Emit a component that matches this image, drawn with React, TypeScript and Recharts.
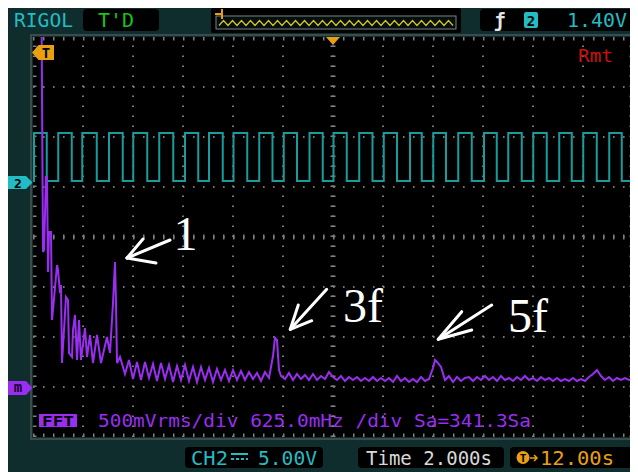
import React from 'react';
import { ComposedChart, Line, XAxis, YAxis, CartesianGrid, ReferenceLine, ReferenceDot } from 'recharts';

// ---- FFT (math) trace, [frequency Hz, magnitude Vrms] ----
const fftDcBand: [number, number][] = [
  [0.1, 4.6], [0.125, 1.36], [0.1375, 1.38], [0.1625, 2.11], [0.175, 2.11], [0.1875, 1.16],
  [0.2, 1.56], [0.225, 1.56], [0.2375, 0.68], [0.25, 0.78], [0.3, 1.23], [0.3125, 1.18],
  [0.3375, 0.95], [0.35, 1.03], [0.3625, 0.25], [0.3875, 0.58], [0.4125, 0.91], [0.4375, 0.88],
  [0.45, 0.35], [0.4875, 0.31], [0.5, 0.58], [0.525, 0.73], [0.55, 0.28], [0.575, 0.68],
  [0.6, 0.28], [0.65, 0.6], [0.675, 0.31], [0.7125, 0.53], [0.75, 0.25], [0.8, 0.53],
  [0.85, 0.25], [0.925, 0.51], [0.9625, 0.35], [1.0, 0.85], [1.025, 1.26], [1.0375, 0.85],
  [1.05, 0.25], [1.0875, 0.31],
];
const fftLowFloor: [number, number][] = [
  [1.15, 0.14], [1.2, 0.28], [1.25, 0.09], [1.3, 0.26], [1.35, 0.08], [1.4, 0.26], [1.45, 0.1],
  [1.5, 0.24], [1.55, 0.07], [1.6, 0.25], [1.65, 0.09], [1.7, 0.23], [1.75, 0.06], [1.8, 0.22],
  [1.85, 0.08], [1.9, 0.23], [1.95, 0.07], [2.0, 0.21], [2.05, 0.06], [2.1, 0.21], [2.15, 0.08],
  [2.2, 0.2], [2.25, 0.06], [2.3, 0.19], [2.35, 0.08], [2.4, 0.18], [2.45, 0.07], [2.5, 0.18],
  [2.55, 0.08], [2.6, 0.17], [2.65, 0.08], [2.7, 0.16], [2.75, 0.09], [2.8, 0.15], [2.85, 0.07],
  [2.9, 0.16], [2.95, 0.1],
];
const fft3fBand: [number, number][] = [
  [3.0, 0.32], [3.025, 0.5], [3.05, 0.48], [3.075, 0.18], [3.1, 0.12], [3.15, 0.09], [3.2, 0.15],
  [3.25, 0.08], [3.3, 0.14], [3.35, 0.09], [3.4, 0.13], [3.45, 0.08], [3.5, 0.14], [3.55, 0.08],
  [3.6, 0.12], [3.65, 0.09], [3.7, 0.16], [3.75, 0.11], [3.8, 0.08], [3.85, 0.12], [3.9, 0.07],
  [3.95, 0.11], [4.0, 0.08], [4.05, 0.11], [4.1, 0.07], [4.15, 0.1], [4.2, 0.07], [4.25, 0.11],
  [4.3, 0.07], [4.35, 0.1], [4.4, 0.07], [4.45, 0.1], [4.5, 0.06], [4.55, 0.12], [4.6, 0.07],
  [4.65, 0.1], [4.7, 0.06], [4.75, 0.09], [4.8, 0.06], [4.85, 0.11], [4.9, 0.07], [4.95, 0.09],
];
const fft5fBand: [number, number][] = [
  [5.0, 0.2], [5.025, 0.28], [5.05, 0.26], [5.1, 0.21], [5.15, 0.08], [5.2, 0.12], [5.25, 0.06],
  [5.3, 0.11], [5.35, 0.07], [5.4, 0.1], [5.45, 0.11], [5.5, 0.07], [5.55, 0.11], [5.6, 0.08],
  [5.65, 0.12], [5.7, 0.08], [5.75, 0.11], [5.8, 0.07], [5.85, 0.12], [5.9, 0.08], [5.95, 0.1],
  [6.0, 0.07], [6.05, 0.11], [6.1, 0.08], [6.15, 0.12], [6.2, 0.08], [6.25, 0.1], [6.3, 0.07],
  [6.35, 0.11], [6.4, 0.08], [6.45, 0.1], [6.5, 0.07], [6.55, 0.1], [6.6, 0.07], [6.65, 0.09],
  [6.7, 0.07], [6.75, 0.1], [6.8, 0.07], [6.85, 0.09], [6.9, 0.07], [6.95, 0.11], [7.0, 0.14],
  [7.05, 0.18], [7.1, 0.12], [7.15, 0.08], [7.2, 0.11], [7.25, 0.07], [7.3, 0.1], [7.35, 0.08],
  [7.4, 0.1], [7.45, 0.08], [7.49, 0.09],
];

// ---- CH2 square wave (seconds, volts) ----
const ch2RiseTimes = [0.04, 1.01, 1.97, 3.04, 4.01, 5.05, 6.08, 7.04, 8.02, 9.05, 10.03, 11.06,
  12.02, 13.05, 14.03, 15.08, 16.01, 17.01, 18.04, 19.01, 20.01, 21.05, 22.01, 23.05];
const ch2FallTimes = [0.55, 1.55, 2.55, 3.59, 4.57, 5.61, 6.61, 7.59, 8.57, 9.58, 10.56, 11.59,
  12.55, 13.58, 14.56, 15.55, 16.52, 17.55, 18.55, 19.55, 20.55, 21.55, 22.55, 23.55];
const ch2HighV = 5.0;
const ch2LowV = 0.2;
const ch2EndTime = 23.96;
const ch2EndV = -30;

// ---- axes (12 x 8 divisions) ----
const freqDomain = [0, 7.5];      // 625 mHz/div
const timeDomain = [0, 24];       // 2 s/div
const vrmsDomain = [-0.49, 3.51]; // 500 mVrms/div
const ch2Domain = [-25.4, 14.6];  // 5 V/div
const divTicksX = [0, 1, 2, 3, 4, 5, 6, 7, 8, 9, 10, 11, 12];
const divTicksY = [0, 1, 2, 3, 4, 5, 6, 7, 8];
const innerDivX = [1, 2, 3, 4, 5, 6, 7, 8, 9, 10, 11];
const innerDivY = [1, 2, 3, 4, 5, 6, 7];

// ---- harmonic annotations (Hz, Vrms) ----
const harmonicNotes = [
  { text: '1', at: [1.756, 1.38], tip: [1.175, 1.3], ends: [[1.7125, 1.48], [1.375, 1.49], [1.5375, 1.25]] },
  { text: '3f', at: [3.875, 0.66], tip: [3.216, 0.587], ends: [[3.671, 0.987], [3.316, 0.83], [3.484, 0.673]] },
  { text: '5f', at: [5.9375, 0.56], tip: [5.066, 0.487], ends: [[5.734, 0.83], [5.359, 0.763], [5.484, 0.58]] },
];

const C = {
  frame: '#0f2d2d', grid: '#9a9a9a', tick: '#808080', ch2: '#1a9c9c', fft: '#9a2ef0', cyan: '#22bcc4',
  green: '#19c419', orange: '#e8a010', red: '#cc1010', white: '#e6e6e6', yellow: '#cfc21e',
};

const fftData = [...fftDcBand, ...fftLowFloor, ...fft3fBand, ...fft5fBand].map(([f, mag]) => ({ f, mag }));

const ch2Data: { t: number; v: number }[] = [{ t: 0, v: ch2LowV }];
ch2RiseTimes.forEach((r, i) => {
  ch2Data.push({ t: r, v: ch2LowV }, { t: r, v: ch2HighV }, { t: ch2FallTimes[i], v: ch2HighV }, { t: ch2FallTimes[i], v: ch2LowV });
});
ch2Data.push({ t: ch2EndTime, v: ch2LowV }, { t: ch2EndTime, v: ch2EndV });

const mono = "'DejaVu Sans Mono', monospace";

function Overlay() {
  const zig: string[] = [];
  for (let i = 0; i <= 52; i++) zig.push(`${219 + i * 4.5},${i % 2 === 0 ? 25.5 : 20.5}`);
  return (
    <svg width={630} height={464} style={{ position: 'absolute', left: 0, top: 0, pointerEvents: 'none' }}>
      <g transform="translate(-8,-8)" fontFamily={mono}>
        {/* screen frame */}
        <rect x={31} y={35} width={603} height={404} fill="none" stroke="#4b5656" strokeWidth={1.5} />
        {/* top bar */}
        <text x={14} y={27} fontSize={19} fill={C.cyan} textLength={59} lengthAdjust="spacingAndGlyphs">RIGOL</text>
        <rect x={83} y={9} width={76} height={22} rx={4} fill="#000" />
        <text x={98} y={27} fontSize={19} fill={C.green} textLength={36} lengthAdjust="spacingAndGlyphs">T'D</text>
        <rect x={211} y={8} width={250} height={25} rx={2} fill="#000" />
        <rect x={216} y={16} width={240} height={13} fill="#060f0f" stroke="#7a8484" strokeWidth={1} />
        <polyline points={zig.join(' ')} fill="none" stroke={C.yellow} strokeWidth={1.3} />
        <path d="M215 14 H222 M222 9 V19" stroke={C.orange} strokeWidth={2} fill="none" />
        <rect x={480} y={9} width={152} height={22} rx={4} fill="#000" />
        <text x={494} y={27} fontSize={19} fontWeight="bold" fill={C.white}>ƒ</text>
        <rect x={524} y={12} width={14} height={16} rx={2} fill={C.cyan} />
        <text x={531} y={26} fontSize={14} fontWeight="bold" fill="#000" textAnchor="middle">2</text>
        <text x={567} y={27} fontSize={19} fill={C.cyan} textLength={60} lengthAdjust="spacingAndGlyphs">1.40V</text>
        {/* in-screen markers */}
        <path d="M32 52.5 L38.5 45 H54 V60 H38.5 Z" fill={C.orange} />
        <text x={46} y={58} fontSize={14} fontWeight="bold" fill="#000" textAnchor="middle">T</text>
        <path d="M326 37 H340 L333 45 Z" fill={C.orange} />
        <text x={578} y={62} fontSize={18} fill={C.red} textLength={35} lengthAdjust="spacingAndGlyphs">Rmt</text>
        <path d="M8 176 H26 L32.5 182.5 L26 189 H8 Z" fill={C.cyan} />
        <text x={18} y={188} fontSize={13} fontWeight="bold" fill="#000" textAnchor="middle">2</text>
        <path d="M8 381 H26 L32.5 388 L26 395 H8 Z" fill={C.fft} />
        <text x={18} y={392} fontSize={14} fontWeight="bold" fill="#1a0030" textAnchor="middle">m</text>
        <rect x={39} y={414} width={38} height={13} fill={C.fft} />
        <text x={58} y={426} fontSize={14} fontWeight="bold" fill="#000" textAnchor="middle" textLength={32} lengthAdjust="spacingAndGlyphs">FFT</text>
        <text x={98} y={427} fontSize={18} fill={C.fft} textLength={433} lengthAdjust="spacingAndGlyphs">500mVrms/div 625.0mHz /div Sa=341.3Sa</text>
        {/* bottom bar */}
        <rect x={185} y={447} width={138} height={21} rx={4} fill="#000" />
        <text x={191} y={465} fontSize={19} fill={C.cyan} textLength={37} lengthAdjust="spacingAndGlyphs">CH2</text>
        <path d="M231 454 H248" stroke={C.cyan} strokeWidth={2} />
        <path d="M231 459 H248" stroke={C.cyan} strokeWidth={2} strokeDasharray="3 2" />
        <text x={258} y={465} fontSize={19} fill={C.cyan} textLength={59} lengthAdjust="spacingAndGlyphs">5.00V</text>
        <rect x={358} y={447} width={146} height={21} rx={4} fill="#000" />
        <text x={366} y={465} fontSize={19} fill="#d8d8d8" textLength={126} lengthAdjust="spacingAndGlyphs">Time 2.000s</text>
        <rect x={510} y={447} width={122} height={21} rx={4} fill="#000" />
        <circle cx={523} cy={457.5} r={6.5} fill={C.orange} />
        <text x={523} y={462} fontSize={11} fontWeight="bold" fill="#000" textAnchor="middle">T</text>
        <path d="M530 458 H537 M534 455 L537 458 L534 461" stroke={C.orange} strokeWidth={1.5} fill="none" />
        <text x={540} y={465} fontSize={19} fill={C.orange} textLength={74} lengthAdjust="spacingAndGlyphs">12.00s</text>
      </g>
    </svg>
  );
}

export default function App() {
  return (
    <div style={{ position: 'relative', width: 630, height: 464, background: C.frame }}>
      <ComposedChart width={630} height={464} margin={{ top: 29, right: 5, bottom: 35, left: 25 }}>
        <XAxis xAxisId="div" type="number" dataKey="x" domain={[0, 12]} ticks={divTicksX} hide allowDataOverflow />
        <YAxis yAxisId="div" type="number" domain={[0, 8]} ticks={divTicksY} hide allowDataOverflow />
        <XAxis xAxisId="t" type="number" dataKey="t" domain={timeDomain} hide allowDataOverflow />
        <YAxis yAxisId="v" type="number" domain={ch2Domain} hide allowDataOverflow />
        <XAxis xAxisId="f" type="number" dataKey="f" domain={freqDomain} hide allowDataOverflow />
        <YAxis yAxisId="m" type="number" domain={vrmsDomain} hide allowDataOverflow />
        <CartesianGrid xAxisId="div" yAxisId="div" fill="#000" fillOpacity={1} horizontal={false} vertical={false} />
        {/* dotted division grid */}
        {innerDivX.map((d) => (
          <ReferenceLine key={'gx' + d} xAxisId="div" yAxisId="div" x={d} stroke={C.grid} strokeWidth={1.6} strokeDasharray="1.6 8.4" />
        ))}
        {innerDivY.map((d) => (
          <ReferenceLine key={'gy' + d} xAxisId="div" yAxisId="div" y={d} stroke={C.grid} strokeWidth={1.6} strokeDasharray="1.6 8.4" />
        ))}
        {/* center cross with minor ticks */}
        <ReferenceLine xAxisId="div" yAxisId="div" x={6} stroke={C.tick} strokeWidth={5} strokeDasharray="1.5 8.5" />
        <ReferenceLine xAxisId="div" yAxisId="div" y={4} stroke={C.tick} strokeWidth={5} strokeDasharray="1.5 8.5" />
        {/* border ticks */}
        <ReferenceLine xAxisId="div" yAxisId="div" x={0} stroke={C.tick} strokeWidth={7} strokeDasharray="1.5 8.5" ifOverflow="hidden" />
        <ReferenceLine xAxisId="div" yAxisId="div" x={12} stroke={C.tick} strokeWidth={7} strokeDasharray="1.5 8.5" ifOverflow="hidden" />
        <ReferenceLine xAxisId="div" yAxisId="div" y={0} stroke={C.tick} strokeWidth={7} strokeDasharray="1.5 8.5" ifOverflow="hidden" />
        <ReferenceLine xAxisId="div" yAxisId="div" y={8} stroke={C.tick} strokeWidth={7} strokeDasharray="1.5 8.5" ifOverflow="hidden" />
        <Line xAxisId="t" yAxisId="v" data={ch2Data} dataKey="v" type="linear" stroke={C.ch2} strokeWidth={2} dot={false} activeDot={false} isAnimationActive={false} />
        <Line xAxisId="f" yAxisId="m" data={fftData} dataKey="mag" type="linear" stroke={C.fft} strokeWidth={2} dot={false} activeDot={false} isAnimationActive={false} />
        {harmonicNotes.map((n) =>
          n.ends.map((e, j) => (
            <ReferenceLine key={n.text + j} xAxisId="f" yAxisId="m" ifOverflow="visible"
              segment={[{ x: n.tip[0], y: n.tip[1] }, { x: e[0], y: e[1] }]}
              stroke="#ffffff" strokeWidth={3} strokeLinecap="round" />
          ))
        )}
        {harmonicNotes.map((n) => (
          <ReferenceDot key={'t' + n.text} xAxisId="f" yAxisId="m" x={n.at[0]} y={n.at[1]} r={0} ifOverflow="visible"
            shape={(p: any) => (
              <text x={p.cx} y={p.cy} fill="#ffffff" fontSize={48} fontFamily="'Liberation Serif', 'Times New Roman', serif">{n.text}</text>
            )} />
        ))}
      </ComposedChart>
      <Overlay />
    </div>
  );
}
